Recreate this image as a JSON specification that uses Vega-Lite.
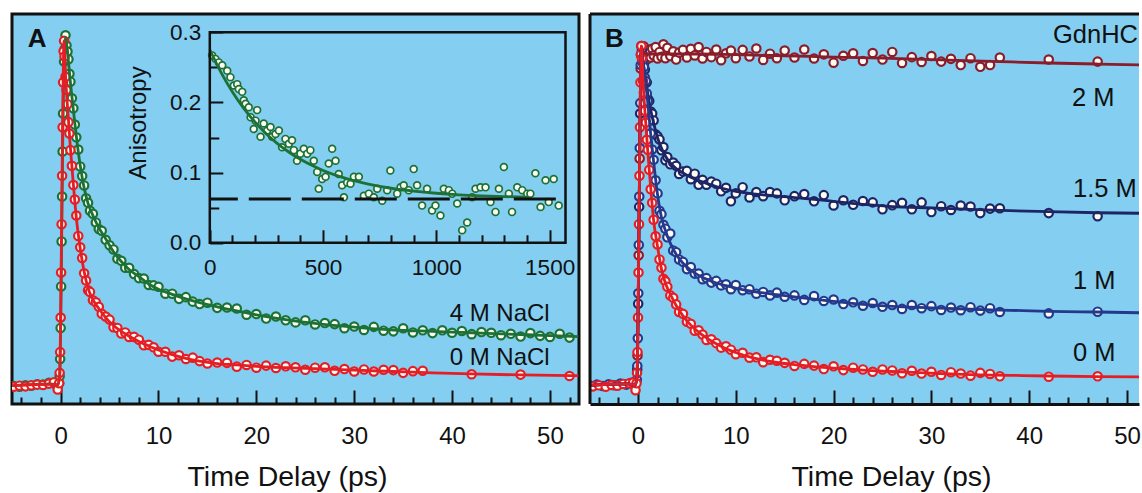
{
 "$schema": "https://vega.github.io/schema/vega-lite/v6.json",
 "background": "white",
 "padding": {"left": 10, "top": 12, "right": 0, "bottom": 0},
 "spacing": 7,
 "config": {
  "font": "Liberation Sans",
  "view": {"stroke": null},
  "axis": {"grid": false, "labelColor": "#111", "titleColor": "#111", "tickColor": "#111", "domainColor": "#111", "labelFont": "Liberation Sans", "titleFont": "Liberation Sans", "titleFontWeight": "normal"},
  "text": {"font": "Liberation Sans"}
 },
 "resolve": {"scale": {"x": "independent", "y": "independent"}},
 "datasets": {
  "ptsA": [
   {"s":"a4","t":-4.8,"v":0.002},{"s":"a4","t":-4.2,"v":0},{"s":"a4","t":-3.6,"v":0.004},{"s":"a4","t":-3,"v":0.003},{"s":"a4","t":-2.4,"v":0.007},{"s":"a4","t":-1.8,"v":0.006},{"s":"a4","t":-1.2,"v":0.011},{"s":"a4","t":-0.7,"v":0.01},{"s":"a4","t":-0.3,"v":0},
   {"s":"a4","t":-0.15,"v":0.01},{"s":"a4","t":-0.1,"v":0.03},{"s":"a4","t":-0.05,"v":0.08},{"s":"a4","t":0,"v":0.17},{"s":"a4","t":0.05,"v":0.29},{"s":"a4","t":0.1,"v":0.42},{"s":"a4","t":0.15,"v":0.55},{"s":"a4","t":0.2,"v":0.68},{"s":"a4","t":0.25,"v":0.79},{"s":"a4","t":0.3,"v":0.88},{"s":"a4","t":0.35,"v":0.94},
   {"s":"a4","t":0.4,"v":0.976},{"s":"a4","t":0.5,"v":1.016},{"s":"a4","t":0.6,"v":0.987},{"s":"a4","t":0.7,"v":0.969},{"s":"a4","t":0.8,"v":0.947},{"s":"a4","t":0.9,"v":0.905},{"s":"a4","t":1.0,"v":0.882},{"s":"a4","t":1.15,"v":0.834},{"s":"a4","t":1.3,"v":0.805},{"s":"a4","t":1.45,"v":0.758},{"s":"a4","t":1.6,"v":0.721},{"s":"a4","t":1.8,"v":0.686},{"s":"a4","t":2.0,"v":0.637},{"s":"a4","t":2.2,"v":0.609},{"s":"a4","t":2.4,"v":0.582},{"s":"a4","t":2.6,"v":0.545},{"s":"a4","t":2.8,"v":0.532},{"s":"a4","t":3.0,"v":0.509},{"s":"a4","t":3.3,"v":0.5},{"s":"a4","t":3.6,"v":0.475},{"s":"a4","t":3.9,"v":0.456},{"s":"a4","t":4.2,"v":0.451},{"s":"a4","t":4.6,"v":0.425},{"s":"a4","t":5.0,"v":0.409},{"s":"a4","t":5.4,"v":0.397},{"s":"a4","t":5.8,"v":0.37},{"s":"a4","t":6.2,"v":0.364},{"s":"a4","t":6.6,"v":0.344},{"s":"a4","t":7.0,"v":0.344},{"s":"a4","t":7.5,"v":0.326},{"s":"a4","t":8,"v":0.314},{"s":"a4","t":8.5,"v":0.313},{"s":"a4","t":9,"v":0.294},{"s":"a4","t":9.5,"v":0.293},{"s":"a4","t":10,"v":0.289},{"s":"a4","t":10.7,"v":0.269},{"s":"a4","t":11.4,"v":0.269},{"s":"a4","t":12.1,"v":0.254},{"s":"a4","t":12.8,"v":0.259},{"s":"a4","t":13.5,"v":0.246},{"s":"a4","t":14.2,"v":0.239},{"s":"a4","t":15,"v":0.243},
   {"s":"a4","t":16,"v":0.228},{"s":"a4","t":17,"v":0.229},{"s":"a4","t":18,"v":0.226},{"s":"a4","t":19,"v":0.208},{"s":"a4","t":20,"v":0.21},{"s":"a4","t":21,"v":0.197},{"s":"a4","t":22,"v":0.203},{"s":"a4","t":23,"v":0.192},{"s":"a4","t":24,"v":0.186},{"s":"a4","t":25,"v":0.192},{"s":"a4","t":26,"v":0.18},{"s":"a4","t":27,"v":0.184},{"s":"a4","t":28,"v":0.181},{"s":"a4","t":29,"v":0.169},{"s":"a4","t":30,"v":0.174},{"s":"a4","t":31,"v":0.164},{"s":"a4","t":32,"v":0.173},{"s":"a4","t":33,"v":0.162},{"s":"a4","t":34,"v":0.16},{"s":"a4","t":35,"v":0.169},{"s":"a4","t":36,"v":0.157},{"s":"a4","t":37,"v":0.163},{"s":"a4","t":38,"v":0.155},{"s":"a4","t":39,"v":0.163},{"s":"a4","t":40,"v":0.156},{"s":"a4","t":41,"v":0.161},{"s":"a4","t":42,"v":0.152},{"s":"a4","t":43,"v":0.158},{"s":"a4","t":44,"v":0.156},{"s":"a4","t":45,"v":0.149},{"s":"a4","t":46,"v":0.153},{"s":"a4","t":47,"v":0.145},{"s":"a4","t":48,"v":0.155},{"s":"a4","t":49,"v":0.147},{"s":"a4","t":50,"v":0.144},{"s":"a4","t":51,"v":0.153},{"s":"a4","t":52,"v":0.142},
   {"s":"a0","t":-4.8,"v":0},{"s":"a0","t":-4.2,"v":0.003},{"s":"a0","t":-3.6,"v":0.001},{"s":"a0","t":-3,"v":0.004},{"s":"a0","t":-2.4,"v":0.006},{"s":"a0","t":-1.8,"v":0.005},{"s":"a0","t":-1.2,"v":0.009},{"s":"a0","t":-0.7,"v":0.013},{"s":"a0","t":-0.3,"v":-0.008},
   {"s":"a0","t":-0.15,"v":0.01},{"s":"a0","t":-0.1,"v":0.04},{"s":"a0","t":-0.05,"v":0.1},{"s":"a0","t":0,"v":0.2},{"s":"a0","t":0.05,"v":0.33},{"s":"a0","t":0.1,"v":0.47},{"s":"a0","t":0.15,"v":0.61},{"s":"a0","t":0.2,"v":0.75},{"s":"a0","t":0.25,"v":0.88},{"s":"a0","t":0.3,"v":0.97},{"s":"a0","t":0.35,"v":1.0},
   {"s":"a0","t":0.4,"v":0.955},{"s":"a0","t":0.5,"v":0.896},{"s":"a0","t":0.6,"v":0.858},{"s":"a0","t":0.7,"v":0.817},{"s":"a0","t":0.8,"v":0.765},{"s":"a0","t":0.9,"v":0.732},{"s":"a0","t":1.0,"v":0.684},{"s":"a0","t":1.15,"v":0.639},{"s":"a0","t":1.3,"v":0.583},{"s":"a0","t":1.45,"v":0.541},{"s":"a0","t":1.6,"v":0.495},{"s":"a0","t":1.8,"v":0.436},{"s":"a0","t":2.0,"v":0.403},{"s":"a0","t":2.2,"v":0.372},{"s":"a0","t":2.4,"v":0.328},{"s":"a0","t":2.6,"v":0.307},{"s":"a0","t":2.8,"v":0.279},{"s":"a0","t":3.0,"v":0.274},{"s":"a0","t":3.3,"v":0.25},{"s":"a0","t":3.6,"v":0.244},{"s":"a0","t":3.9,"v":0.231},{"s":"a0","t":4.2,"v":0.211},{"s":"a0","t":4.6,"v":0.203},{"s":"a0","t":5.0,"v":0.194},{"s":"a0","t":5.4,"v":0.172},{"s":"a0","t":5.8,"v":0.17},{"s":"a0","t":6.2,"v":0.154},{"s":"a0","t":6.6,"v":0.157},{"s":"a0","t":7.0,"v":0.144},{"s":"a0","t":7.5,"v":0.144},{"s":"a0","t":8,"v":0.136},{"s":"a0","t":8.5,"v":0.12},{"s":"a0","t":9,"v":0.121},{"s":"a0","t":9.5,"v":0.114},{"s":"a0","t":10,"v":0.101},{"s":"a0","t":10.7,"v":0.101},{"s":"a0","t":11.4,"v":0.087},{"s":"a0","t":12.1,"v":0.091},{"s":"a0","t":12.8,"v":0.08},{"s":"a0","t":13.5,"v":0.084},{"s":"a0","t":14.2,"v":0.074},{"s":"a0","t":15,"v":0.067},
   {"s":"a0","t":16,"v":0.07},{"s":"a0","t":17,"v":0.069},{"s":"a0","t":18,"v":0.058},{"s":"a0","t":19,"v":0.063},{"s":"a0","t":20,"v":0.055},{"s":"a0","t":21,"v":0.061},{"s":"a0","t":22,"v":0.054},{"s":"a0","t":23,"v":0.059},{"s":"a0","t":24,"v":0.056},{"s":"a0","t":25,"v":0.049},{"s":"a0","t":26,"v":0.055},{"s":"a0","t":27,"v":0.056},{"s":"a0","t":28,"v":0.046},{"s":"a0","t":29,"v":0.051},{"s":"a0","t":30,"v":0.044},{"s":"a0","t":31,"v":0.05},{"s":"a0","t":32,"v":0.044},{"s":"a0","t":33,"v":0.049},{"s":"a0","t":34,"v":0.048},{"s":"a0","t":35,"v":0.04},{"s":"a0","t":36,"v":0.045},{"s":"a0","t":37,"v":0.046},{"s":"a0","t":42,"v":0.036},{"s":"a0","t":47,"v":0.035},{"s":"a0","t":52,"v":0.031}
  ],
  "fitA": [
   {"s":"a4","t":-5,"v":0.003},{"s":"a4","t":-1,"v":0.008},{"s":"a4","t":-0.3,"v":0.005},{"s":"a4","t":-0.1,"v":0.03},{"s":"a4","t":0,"v":0.17},{"s":"a4","t":0.1,"v":0.42},{"s":"a4","t":0.2,"v":0.68},{"s":"a4","t":0.3,"v":0.88},{"s":"a4","t":0.4,"v":0.98},{"s":"a4","t":0.5,"v":1.01},{"s":"a4","t":0.6,"v":0.99},{"s":"a4","t":0.8,"v":0.94},{"s":"a4","t":1.0,"v":0.88},{"s":"a4","t":1.3,"v":0.8},{"s":"a4","t":1.6,"v":0.725},{"s":"a4","t":2.0,"v":0.64},{"s":"a4","t":2.4,"v":0.575},{"s":"a4","t":2.8,"v":0.53},{"s":"a4","t":3.3,"v":0.495},{"s":"a4","t":3.9,"v":0.46},{"s":"a4","t":4.6,"v":0.428},{"s":"a4","t":5.4,"v":0.39},{"s":"a4","t":6.2,"v":0.362},{"s":"a4","t":7.0,"v":0.339},{"s":"a4","t":8,"v":0.318},{"s":"a4","t":9,"v":0.297},{"s":"a4","t":10,"v":0.282},{"s":"a4","t":11.4,"v":0.267},{"s":"a4","t":12.8,"v":0.254},{"s":"a4","t":14.2,"v":0.243},{"s":"a4","t":16,"v":0.231},{"s":"a4","t":18,"v":0.219},{"s":"a4","t":20,"v":0.208},{"s":"a4","t":23,"v":0.194},{"s":"a4","t":26,"v":0.183},{"s":"a4","t":30,"v":0.172},{"s":"a4","t":34,"v":0.164},{"s":"a4","t":38,"v":0.16},{"s":"a4","t":42,"v":0.156},{"s":"a4","t":47,"v":0.151},{"s":"a4","t":52.9,"v":0.145},
   {"s":"a0","t":-5,"v":0.003},{"s":"a0","t":-1,"v":0.007},{"s":"a0","t":-0.3,"v":0.005},{"s":"a0","t":-0.1,"v":0.03},{"s":"a0","t":0,"v":0.2},{"s":"a0","t":0.1,"v":0.47},{"s":"a0","t":0.2,"v":0.75},{"s":"a0","t":0.3,"v":0.97},{"s":"a0","t":0.35,"v":1.0},{"s":"a0","t":0.5,"v":0.9},{"s":"a0","t":0.7,"v":0.81},{"s":"a0","t":1.0,"v":0.69},{"s":"a0","t":1.3,"v":0.585},{"s":"a0","t":1.6,"v":0.49},{"s":"a0","t":2.0,"v":0.4},{"s":"a0","t":2.4,"v":0.333},{"s":"a0","t":2.8,"v":0.285},{"s":"a0","t":3.3,"v":0.252},{"s":"a0","t":3.9,"v":0.226},{"s":"a0","t":4.6,"v":0.2},{"s":"a0","t":5.4,"v":0.177},{"s":"a0","t":6.2,"v":0.16},{"s":"a0","t":7.0,"v":0.146},{"s":"a0","t":8,"v":0.131},{"s":"a0","t":9,"v":0.118},{"s":"a0","t":10,"v":0.106},{"s":"a0","t":11.4,"v":0.093},{"s":"a0","t":12.8,"v":0.082},{"s":"a0","t":14.2,"v":0.074},{"s":"a0","t":16,"v":0.067},{"s":"a0","t":18,"v":0.063},{"s":"a0","t":20,"v":0.059},{"s":"a0","t":23,"v":0.055},{"s":"a0","t":26,"v":0.052},{"s":"a0","t":30,"v":0.048},{"s":"a0","t":34,"v":0.044},{"s":"a0","t":38,"v":0.04},{"s":"a0","t":42,"v":0.037},{"s":"a0","t":47,"v":0.034},{"s":"a0","t":52.9,"v":0.032}
  ],
  "labA": [{"t":39.75,"v":0.19,"label":"4 M NaCl"},{"t":39.75,"v":0.063,"label":"0 M NaCl"}],
  "letA": [{"t":-3.37,"v":0.982,"label":"A"}],
  "ins": [
   {"t":10,"v":0.267},{"t":25,"v":0.262},{"t":40,"v":0.257},{"t":55,"v":0.253},{"t":77,"v":0.245},{"t":91,"v":0.236},{"t":106,"v":0.224},{"t":121,"v":0.226},{"t":128,"v":0.219},{"t":143,"v":0.215},{"t":150,"v":0.203},{"t":158,"v":0.198},{"t":172,"v":0.193},{"t":180,"v":0.179},{"t":194,"v":0.162},{"t":202,"v":0.174},{"t":209,"v":0.189},{"t":224,"v":0.151},{"t":238,"v":0.17},{"t":253,"v":0.16},{"t":268,"v":0.165},{"t":275,"v":0.151},{"t":290,"v":0.155},{"t":305,"v":0.16},{"t":319,"v":0.136},{"t":334,"v":0.148},{"t":349,"v":0.141},{"t":363,"v":0.146},{"t":371,"v":0.132},{"t":385,"v":0.117},{"t":400,"v":0.127},{"t":415,"v":0.134},{"t":430,"v":0.127},{"t":444,"v":0.132},{"t":459,"v":0.117},{"t":474,"v":0.101},{"t":481,"v":0.077},{"t":496,"v":0.091},{"t":511,"v":0.094},{"t":525,"v":0.113},{"t":540,"v":0.134},{"t":555,"v":0.117},{"t":569,"v":0.098},{"t":584,"v":0.082},{"t":592,"v":0.065},{"t":606,"v":0.086},{"t":621,"v":0.084},{"t":636,"v":0.094},{"t":658,"v":0.094},{"t":680,"v":0.067},{"t":702,"v":0.07},{"t":724,"v":0.065},{"t":739,"v":0.077},{"t":761,"v":0.06},{"t":783,"v":0.075},{"t":797,"v":0.103},{"t":827,"v":0.07},{"t":842,"v":0.079},{"t":856,"v":0.082},{"t":878,"v":0.075},{"t":900,"v":0.105},{"t":915,"v":0.082},{"t":937,"v":0.053},{"t":959,"v":0.077},{"t":981,"v":0.046},{"t":996,"v":0.053},{"t":1018,"v":0.039},{"t":1033,"v":0.077},{"t":1055,"v":0.075},{"t":1070,"v":0.07},{"t":1092,"v":0.056},{"t":1114,"v":0.018},{"t":1136,"v":0.029},{"t":1158,"v":0.065},{"t":1173,"v":0.077},{"t":1195,"v":0.079},{"t":1217,"v":0.079},{"t":1239,"v":0.058},{"t":1261,"v":0.044},{"t":1276,"v":0.077},{"t":1298,"v":0.108},{"t":1320,"v":0.07},{"t":1334,"v":0.044},{"t":1357,"v":0.079},{"t":1379,"v":0.075},{"t":1401,"v":0.07},{"t":1415,"v":0.07},{"t":1437,"v":0.099},{"t":1460,"v":0.051},{"t":1482,"v":0.089},{"t":1496,"v":0.058},{"t":1518,"v":0.091},{"t":1540,"v":0.053}
  ],
  "insFit": [
   {"t":0,"v":0.275},{"t":50,"v":0.2425},{"t":100,"v":0.2149},{"t":150,"v":0.1916},{"t":200,"v":0.1718},{"t":250,"v":0.1551},{"t":300,"v":0.141},{"t":350,"v":0.129},{"t":400,"v":0.1189},{"t":450,"v":0.1103},{"t":500,"v":0.103},{"t":600,"v":0.0917},{"t":700,"v":0.0836},{"t":800,"v":0.0777},{"t":900,"v":0.0736},{"t":1000,"v":0.0706},{"t":1100,"v":0.0684},{"t":1200,"v":0.0669},{"t":1300,"v":0.0658},{"t":1400,"v":0.065}
  ],
  "ptsB": [
   {"s":"b2","t":-0.05,"v":0.09},{"s":"b2","t":0.07,"v":0.38},{"s":"b2","t":0.17,"v":0.66},{"s":"b2","t":0.27,"v":0.92},{"s":"b2","t":0.33,"v":0.985},
   {"s":"b2","t":0.4,"v":0.985},{"s":"b2","t":0.5,"v":0.958},{"s":"b2","t":0.6,"v":0.984},{"s":"b2","t":0.7,"v":0.958},{"s":"b2","t":0.8,"v":0.971},{"s":"b2","t":0.9,"v":0.946},{"s":"b2","t":1.0,"v":0.966},{"s":"b2","t":1.15,"v":0.974},{"s":"b2","t":1.3,"v":0.952},{"s":"b2","t":1.45,"v":0.977},{"s":"b2","t":1.6,"v":0.958},{"s":"b2","t":1.8,"v":0.982},{"s":"b2","t":2.0,"v":0.949},{"s":"b2","t":2.2,"v":0.968},{"s":"b2","t":2.4,"v":0.954},{"s":"b2","t":2.6,"v":0.99},{"s":"b2","t":2.8,"v":0.95},{"s":"b2","t":3.0,"v":0.98},{"s":"b2","t":3.3,"v":0.956},{"s":"b2","t":3.6,"v":0.97},{"s":"b2","t":3.9,"v":0.946},{"s":"b2","t":4.2,"v":0.966},{"s":"b2","t":4.6,"v":0.974},{"s":"b2","t":5.0,"v":0.952},{"s":"b2","t":5.4,"v":0.977},{"s":"b2","t":5.8,"v":0.958},{"s":"b2","t":6.2,"v":0.982},{"s":"b2","t":6.6,"v":0.949},{"s":"b2","t":7.0,"v":0.968},{"s":"b2","t":7.5,"v":0.953},{"s":"b2","t":8,"v":0.975},{"s":"b2","t":8.5,"v":0.944},{"s":"b2","t":9,"v":0.964},{"s":"b2","t":9.5,"v":0.972},{"s":"b2","t":10,"v":0.95},{"s":"b2","t":10.7,"v":0.974},{"s":"b2","t":11.4,"v":0.955},{"s":"b2","t":12.1,"v":0.978},{"s":"b2","t":12.8,"v":0.945},{"s":"b2","t":13.5,"v":0.963},{"s":"b2","t":14.2,"v":0.95},{"s":"b2","t":15,"v":0.972},{"s":"b2","t":16,"v":0.952},{"s":"b2","t":17,"v":0.975},{"s":"b2","t":18,"v":0.949},{"s":"b2","t":19,"v":0.961},{"s":"b2","t":20,"v":0.937},{"s":"b2","t":21,"v":0.957},{"s":"b2","t":22,"v":0.964},{"s":"b2","t":23,"v":0.942},{"s":"b2","t":24,"v":0.965},{"s":"b2","t":25,"v":0.946},{"s":"b2","t":26,"v":0.968},{"s":"b2","t":27,"v":0.936},{"s":"b2","t":28,"v":0.953},{"s":"b2","t":29,"v":0.939},{"s":"b2","t":30,"v":0.956},{"s":"b2","t":31,"v":0.94},{"s":"b2","t":32,"v":0.948},{"s":"b2","t":33,"v":0.93},{"s":"b2","t":34,"v":0.95},{"s":"b2","t":35,"v":0.925},{"s":"b2","t":36,"v":0.93},{"s":"b2","t":37,"v":0.952},{"s":"b2","t":42,"v":0.946},{"s":"b2","t":47,"v":0.94},{"s":"b2","t":52,"v":0.921},
   {"s":"b15","t":-0.08,"v":0.05},{"s":"b15","t":0.02,"v":0.24},{"s":"b15","t":0.12,"v":0.52},{"s":"b15","t":0.22,"v":0.79},{"s":"b15","t":0.3,"v":0.96},
   {"s":"b15","t":0.4,"v":0.973},{"s":"b15","t":0.5,"v":0.935},{"s":"b15","t":0.6,"v":0.929},{"s":"b15","t":0.7,"v":0.917},{"s":"b15","t":0.8,"v":0.879},{"s":"b15","t":0.9,"v":0.88},{"s":"b15","t":1.0,"v":0.833},{"s":"b15","t":1.15,"v":0.826},{"s":"b15","t":1.3,"v":0.796},{"s":"b15","t":1.45,"v":0.79},{"s":"b15","t":1.6,"v":0.77},{"s":"b15","t":1.8,"v":0.73},{"s":"b15","t":2.0,"v":0.724},{"s":"b15","t":2.2,"v":0.715},{"s":"b15","t":2.4,"v":0.684},{"s":"b15","t":2.6,"v":0.693},{"s":"b15","t":2.8,"v":0.655},{"s":"b15","t":3.0,"v":0.664},{"s":"b15","t":3.3,"v":0.643},{"s":"b15","t":3.6,"v":0.648},{"s":"b15","t":3.9,"v":0.639},{"s":"b15","t":4.2,"v":0.615},{"s":"b15","t":4.6,"v":0.622},{"s":"b15","t":5.0,"v":0.624},{"s":"b15","t":5.4,"v":0.6},{"s":"b15","t":5.8,"v":0.616},{"s":"b15","t":6.2,"v":0.584},{"s":"b15","t":6.6,"v":0.598},{"s":"b15","t":7.0,"v":0.584},{"s":"b15","t":7.5,"v":0.593},{"s":"b15","t":8,"v":0.587},{"s":"b15","t":8.5,"v":0.565},{"s":"b15","t":9,"v":0.575},{"s":"b15","t":9.5,"v":0.536},{"s":"b15","t":10,"v":0.559},{"s":"b15","t":10.7,"v":0.577},{"s":"b15","t":11.4,"v":0.547},{"s":"b15","t":12.1,"v":0.563},{"s":"b15","t":12.8,"v":0.551},{"s":"b15","t":13.5,"v":0.563},{"s":"b15","t":14.2,"v":0.559},{"s":"b15","t":15,"v":0.539},{"s":"b15","t":16,"v":0.551},{"s":"b15","t":17,"v":0.557},{"s":"b15","t":18,"v":0.536},{"s":"b15","t":19,"v":0.554},{"s":"b15","t":20,"v":0.524},{"s":"b15","t":21,"v":0.539},{"s":"b15","t":22,"v":0.526},{"s":"b15","t":23,"v":0.537},{"s":"b15","t":24,"v":0.533},{"s":"b15","t":25,"v":0.513},{"s":"b15","t":26,"v":0.525},{"s":"b15","t":27,"v":0.532},{"s":"b15","t":28,"v":0.513},{"s":"b15","t":29,"v":0.533},{"s":"b15","t":30,"v":0.505},{"s":"b15","t":31,"v":0.522},{"s":"b15","t":32,"v":0.511},{"s":"b15","t":33,"v":0.524},{"s":"b15","t":34,"v":0.521},{"s":"b15","t":35,"v":0.502},{"s":"b15","t":36,"v":0.515},{"s":"b15","t":37,"v":0.516},{"s":"b15","t":42,"v":0.502},{"s":"b15","t":47,"v":0.493},{"s":"b15","t":52,"v":0.497},
   {"s":"b1","t":-4.8,"v":0.003},{"s":"b1","t":-4.2,"v":0.006},{"s":"b1","t":-3.6,"v":0.002},{"s":"b1","t":-3,"v":0.007},{"s":"b1","t":-2.4,"v":0.004},{"s":"b1","t":-1.8,"v":0.009},{"s":"b1","t":-1.2,"v":0.006},{"s":"b1","t":-0.7,"v":0.011},{"s":"b1","t":-0.3,"v":0.002},
   {"s":"b1","t":-0.12,"v":0.02},{"s":"b1","t":-0.07,"v":0.06},{"s":"b1","t":-0.02,"v":0.14},{"s":"b1","t":0.03,"v":0.27},{"s":"b1","t":0.08,"v":0.41},{"s":"b1","t":0.13,"v":0.55},{"s":"b1","t":0.18,"v":0.69},{"s":"b1","t":0.23,"v":0.82},{"s":"b1","t":0.28,"v":0.93},
   {"s":"b1","t":0.4,"v":0.966},{"s":"b1","t":0.5,"v":0.937},{"s":"b1","t":0.6,"v":0.924},{"s":"b1","t":0.7,"v":0.894},{"s":"b1","t":0.8,"v":0.884},{"s":"b1","t":0.9,"v":0.848},{"s":"b1","t":1.0,"v":0.825},{"s":"b1","t":1.15,"v":0.77},{"s":"b1","t":1.3,"v":0.733},{"s":"b1","t":1.45,"v":0.686},{"s":"b1","t":1.6,"v":0.656},{"s":"b1","t":1.8,"v":0.597},{"s":"b1","t":2.0,"v":0.559},{"s":"b1","t":2.2,"v":0.509},{"s":"b1","t":2.4,"v":0.499},{"s":"b1","t":2.6,"v":0.468},{"s":"b1","t":2.8,"v":0.457},{"s":"b1","t":3.0,"v":0.432},{"s":"b1","t":3.3,"v":0.443},{"s":"b1","t":3.6,"v":0.394},{"s":"b1","t":3.9,"v":0.389},{"s":"b1","t":4.2,"v":0.368},{"s":"b1","t":4.6,"v":0.361},{"s":"b1","t":5.0,"v":0.34},{"s":"b1","t":5.4,"v":0.346},{"s":"b1","t":5.8,"v":0.327},{"s":"b1","t":6.2,"v":0.327},{"s":"b1","t":6.6,"v":0.311},{"s":"b1","t":7.0,"v":0.314},{"s":"b1","t":7.5,"v":0.301},{"s":"b1","t":8,"v":0.306},{"s":"b1","t":8.5,"v":0.293},{"s":"b1","t":9,"v":0.296},{"s":"b1","t":9.5,"v":0.282},{"s":"b1","t":10,"v":0.294},{"s":"b1","t":10.7,"v":0.279},{"s":"b1","t":11.4,"v":0.282},{"s":"b1","t":12.1,"v":0.269},{"s":"b1","t":12.8,"v":0.274},{"s":"b1","t":13.5,"v":0.264},{"s":"b1","t":14.2,"v":0.272},{"s":"b1","t":15,"v":0.26},{"s":"b1","t":16,"v":0.264},{"s":"b1","t":17,"v":0.251},{"s":"b1","t":18,"v":0.262},{"s":"b1","t":19,"v":0.248},{"s":"b1","t":20,"v":0.252},{"s":"b1","t":21,"v":0.239},{"s":"b1","t":22,"v":0.244},{"s":"b1","t":23,"v":0.234},{"s":"b1","t":24,"v":0.242},{"s":"b1","t":25,"v":0.231},{"s":"b1","t":26,"v":0.236},{"s":"b1","t":27,"v":0.225},{"s":"b1","t":28,"v":0.236},{"s":"b1","t":29,"v":0.227},{"s":"b1","t":30,"v":0.233},{"s":"b1","t":31,"v":0.222},{"s":"b1","t":32,"v":0.229},{"s":"b1","t":33,"v":0.221},{"s":"b1","t":34,"v":0.23},{"s":"b1","t":35,"v":0.22},{"s":"b1","t":36,"v":0.227},{"s":"b1","t":37,"v":0.216},{"s":"b1","t":42,"v":0.212},{"s":"b1","t":47,"v":0.217},{"s":"b1","t":52,"v":0.207},
   {"s":"b0","t":-4.6,"v":0.001},{"s":"b0","t":-4,"v":0.004},{"s":"b0","t":-3.3,"v":0},{"s":"b0","t":-2.7,"v":0.005},{"s":"b0","t":-2.1,"v":0.003},{"s":"b0","t":-1.5,"v":0.008},{"s":"b0","t":-0.9,"v":0.01},{"s":"b0","t":-0.5,"v":0.012},{"s":"b0","t":-0.25,"v":-0.01},
   {"s":"b0","t":-0.15,"v":0.01},{"s":"b0","t":-0.1,"v":0.04},{"s":"b0","t":-0.05,"v":0.1},{"s":"b0","t":0,"v":0.2},{"s":"b0","t":0.05,"v":0.33},{"s":"b0","t":0.1,"v":0.47},{"s":"b0","t":0.15,"v":0.61},{"s":"b0","t":0.2,"v":0.75},{"s":"b0","t":0.25,"v":0.88},{"s":"b0","t":0.3,"v":0.96},{"s":"b0","t":0.35,"v":0.985},
   {"s":"b0","t":0.4,"v":0.948},{"s":"b0","t":0.5,"v":0.885},{"s":"b0","t":0.6,"v":0.851},{"s":"b0","t":0.7,"v":0.798},{"s":"b0","t":0.8,"v":0.764},{"s":"b0","t":0.9,"v":0.714},{"s":"b0","t":1.0,"v":0.685},{"s":"b0","t":1.15,"v":0.627},{"s":"b0","t":1.3,"v":0.571},{"s":"b0","t":1.45,"v":0.532},{"s":"b0","t":1.6,"v":0.483},{"s":"b0","t":1.8,"v":0.435},{"s":"b0","t":2.0,"v":0.411},{"s":"b0","t":2.2,"v":0.368},{"s":"b0","t":2.4,"v":0.344},{"s":"b0","t":2.6,"v":0.312},{"s":"b0","t":2.8,"v":0.305},{"s":"b0","t":3.0,"v":0.289},{"s":"b0","t":3.3,"v":0.264},{"s":"b0","t":3.6,"v":0.257},{"s":"b0","t":3.9,"v":0.238},{"s":"b0","t":4.2,"v":0.216},{"s":"b0","t":4.6,"v":0.211},{"s":"b0","t":5.0,"v":0.188},{"s":"b0","t":5.4,"v":0.182},{"s":"b0","t":5.8,"v":0.162},{"s":"b0","t":6.2,"v":0.163},{"s":"b0","t":6.6,"v":0.151},{"s":"b0","t":7.0,"v":0.135},{"s":"b0","t":7.5,"v":0.137},{"s":"b0","t":8,"v":0.126},{"s":"b0","t":8.5,"v":0.113},{"s":"b0","t":9,"v":0.117},{"s":"b0","t":9.5,"v":0.107},{"s":"b0","t":10,"v":0.094},{"s":"b0","t":10.7,"v":0.098},{"s":"b0","t":11.4,"v":0.084},{"s":"b0","t":12.1,"v":0.085},{"s":"b0","t":12.8,"v":0.071},{"s":"b0","t":13.5,"v":0.078},{"s":"b0","t":14.2,"v":0.075},{"s":"b0","t":15,"v":0.069},{"s":"b0","t":16,"v":0.06},{"s":"b0","t":17,"v":0.066},{"s":"b0","t":18,"v":0.061},{"s":"b0","t":19,"v":0.051},{"s":"b0","t":20,"v":0.059},{"s":"b0","t":21,"v":0.048},{"s":"b0","t":22,"v":0.055},{"s":"b0","t":23,"v":0.05},{"s":"b0","t":24,"v":0.043},{"s":"b0","t":25,"v":0.05},{"s":"b0","t":26,"v":0.047},{"s":"b0","t":27,"v":0.039},{"s":"b0","t":28,"v":0.046},{"s":"b0","t":29,"v":0.038},{"s":"b0","t":30,"v":0.043},{"s":"b0","t":31,"v":0.034},{"s":"b0","t":32,"v":0.042},{"s":"b0","t":33,"v":0.038},{"s":"b0","t":34,"v":0.032},{"s":"b0","t":35,"v":0.04},{"s":"b0","t":36,"v":0.037},{"s":"b0","t":37,"v":0.03},{"s":"b0","t":42,"v":0.029},{"s":"b0","t":47,"v":0.03},{"s":"b0","t":52,"v":0.027}
  ],
  "fitB": [
   {"s":"b2","t":-5,"v":0.004},{"s":"b2","t":-1,"v":0.008},{"s":"b2","t":-0.3,"v":0.004},{"s":"b2","t":-0.1,"v":0.03},{"s":"b2","t":0,"v":0.19},{"s":"b2","t":0.1,"v":0.46},{"s":"b2","t":0.2,"v":0.74},{"s":"b2","t":0.3,"v":0.96},{"s":"b2","t":0.35,"v":0.985},{"s":"b2","t":0.5,"v":0.97},{"s":"b2","t":0.7,"v":0.964},{"s":"b2","t":1.0,"v":0.962},{"s":"b2","t":3,"v":0.962},{"s":"b2","t":6,"v":0.962},{"s":"b2","t":10,"v":0.96},{"s":"b2","t":15,"v":0.957},{"s":"b2","t":20,"v":0.953},{"s":"b2","t":25,"v":0.95},{"s":"b2","t":30,"v":0.946},{"s":"b2","t":37,"v":0.94},{"s":"b2","t":42,"v":0.936},{"s":"b2","t":47,"v":0.933},{"s":"b2","t":53,"v":0.93},
   {"s":"b15","t":-5,"v":0.004},{"s":"b15","t":-1,"v":0.008},{"s":"b15","t":-0.3,"v":0.004},{"s":"b15","t":-0.1,"v":0.03},{"s":"b15","t":0,"v":0.19},{"s":"b15","t":0.1,"v":0.46},{"s":"b15","t":0.2,"v":0.74},{"s":"b15","t":0.3,"v":0.96},{"s":"b15","t":0.35,"v":0.975},{"s":"b15","t":0.5,"v":0.945},{"s":"b15","t":0.7,"v":0.905},{"s":"b15","t":1.0,"v":0.845},{"s":"b15","t":1.3,"v":0.8},{"s":"b15","t":1.6,"v":0.762},{"s":"b15","t":2.0,"v":0.72},{"s":"b15","t":2.4,"v":0.69},{"s":"b15","t":2.8,"v":0.667},{"s":"b15","t":3.3,"v":0.647},{"s":"b15","t":3.9,"v":0.631},{"s":"b15","t":4.6,"v":0.618},{"s":"b15","t":5.4,"v":0.606},{"s":"b15","t":6.2,"v":0.596},{"s":"b15","t":7.0,"v":0.588},{"s":"b15","t":8,"v":0.579},{"s":"b15","t":9,"v":0.571},{"s":"b15","t":10,"v":0.565},{"s":"b15","t":11.4,"v":0.559},{"s":"b15","t":12.8,"v":0.555},{"s":"b15","t":14.2,"v":0.551},{"s":"b15","t":16,"v":0.547},{"s":"b15","t":18,"v":0.542},{"s":"b15","t":20,"v":0.536},{"s":"b15","t":23,"v":0.527},{"s":"b15","t":26,"v":0.521},{"s":"b15","t":30,"v":0.517},{"s":"b15","t":34,"v":0.513},{"s":"b15","t":38,"v":0.509},{"s":"b15","t":42,"v":0.506},{"s":"b15","t":47,"v":0.503},{"s":"b15","t":53,"v":0.501},
   {"s":"b1","t":-5,"v":0.004},{"s":"b1","t":-1,"v":0.008},{"s":"b1","t":-0.3,"v":0.004},{"s":"b1","t":-0.1,"v":0.03},{"s":"b1","t":0,"v":0.19},{"s":"b1","t":0.1,"v":0.46},{"s":"b1","t":0.2,"v":0.74},{"s":"b1","t":0.3,"v":0.96},{"s":"b1","t":0.35,"v":0.98},{"s":"b1","t":0.5,"v":0.94},{"s":"b1","t":0.7,"v":0.9},{"s":"b1","t":1.0,"v":0.82},{"s":"b1","t":1.3,"v":0.73},{"s":"b1","t":1.6,"v":0.65},{"s":"b1","t":2.0,"v":0.555},{"s":"b1","t":2.4,"v":0.49},{"s":"b1","t":2.8,"v":0.452},{"s":"b1","t":3.3,"v":0.415},{"s":"b1","t":3.9,"v":0.383},{"s":"b1","t":4.6,"v":0.357},{"s":"b1","t":5.4,"v":0.337},{"s":"b1","t":6.2,"v":0.322},{"s":"b1","t":7.0,"v":0.311},{"s":"b1","t":8,"v":0.3},{"s":"b1","t":9,"v":0.292},{"s":"b1","t":10,"v":0.285},{"s":"b1","t":11.4,"v":0.277},{"s":"b1","t":12.8,"v":0.271},{"s":"b1","t":14.2,"v":0.266},{"s":"b1","t":16,"v":0.26},{"s":"b1","t":18,"v":0.253},{"s":"b1","t":20,"v":0.247},{"s":"b1","t":23,"v":0.238},{"s":"b1","t":26,"v":0.232},{"s":"b1","t":30,"v":0.228},{"s":"b1","t":34,"v":0.224},{"s":"b1","t":38,"v":0.221},{"s":"b1","t":42,"v":0.218},{"s":"b1","t":47,"v":0.216},{"s":"b1","t":53,"v":0.213},
   {"s":"b0","t":-5,"v":0.004},{"s":"b0","t":-1,"v":0.008},{"s":"b0","t":-0.3,"v":0.004},{"s":"b0","t":-0.1,"v":0.03},{"s":"b0","t":0,"v":0.2},{"s":"b0","t":0.1,"v":0.47},{"s":"b0","t":0.2,"v":0.75},{"s":"b0","t":0.3,"v":0.96},{"s":"b0","t":0.35,"v":0.985},{"s":"b0","t":0.5,"v":0.89},{"s":"b0","t":0.7,"v":0.8},{"s":"b0","t":1.0,"v":0.68},{"s":"b0","t":1.3,"v":0.575},{"s":"b0","t":1.6,"v":0.48},{"s":"b0","t":2.0,"v":0.405},{"s":"b0","t":2.4,"v":0.34},{"s":"b0","t":2.8,"v":0.3},{"s":"b0","t":3.3,"v":0.268},{"s":"b0","t":3.9,"v":0.235},{"s":"b0","t":4.6,"v":0.205},{"s":"b0","t":5.4,"v":0.178},{"s":"b0","t":6.2,"v":0.158},{"s":"b0","t":7.0,"v":0.141},{"s":"b0","t":8,"v":0.124},{"s":"b0","t":9,"v":0.11},{"s":"b0","t":10,"v":0.099},{"s":"b0","t":11.4,"v":0.086},{"s":"b0","t":12.8,"v":0.077},{"s":"b0","t":14.2,"v":0.07},{"s":"b0","t":16,"v":0.064},{"s":"b0","t":18,"v":0.058},{"s":"b0","t":20,"v":0.054},{"s":"b0","t":23,"v":0.048},{"s":"b0","t":26,"v":0.044},{"s":"b0","t":30,"v":0.039},{"s":"b0","t":34,"v":0.035},{"s":"b0","t":38,"v":0.033},{"s":"b0","t":42,"v":0.031},{"s":"b0","t":47,"v":0.029},{"s":"b0","t":53,"v":0.028}
  ],
  "labB": [{"t":42.43,"v":0.993,"label":"GdnHCl"},{"t":44.38,"v":0.811,"label":"2 M"},{"t":44.48,"v":0.549,"label":"1.5 M"},{"t":44.48,"v":0.282,"label":"1 M"},{"t":44.48,"v":0.074,"label":"0 M"}],
  "letB": [{"t":-3.37,"v":0.982,"label":"B"}]
 },
 "hconcat": [
  {
   "width": 567,
   "height": 390,
   "view": {"fill": "#83CEF1", "stroke": "#111", "strokeWidth": 3},
   "resolve": {"scale": {"x": "independent", "y": "independent"}, "axis": {"x": "independent", "y": "independent"}},
   "layer": [
    {
     "resolve": {"axis": {"x": "independent"}},
     "layer": [
      {
       "data": {"name": "ptsA"},
       "mark": {"type": "point", "shape": "circle", "filled": false, "fill": "#FFFDF2", "fillOpacity": 1, "opacity": 1, "size": 70, "strokeWidth": 2.2, "clip": true},
       "encoding": {
        "x": {"field": "t", "type": "quantitative", "scale": {"domain": [-4.97, 52.97], "nice": false, "zero": false},
         "axis": {"orient": "bottom", "values": [0,10,20,30,40,50], "domain": false, "ticks": true, "tickSize": -14, "tickWidth": 2,
          "labelFontSize": 24, "labelPadding": 34, "labelOverlap": false, "labelFlush": false,
          "title": "Time Delay (ps)", "titleFontSize": 28.5, "titleX": 275, "titleY": 81, "titleBaseline": "alphabetic", "titleAlign": "center"}},
        "y": {"field": "v", "type": "quantitative", "scale": {"domain": [-0.05, 1.0777], "nice": false, "zero": false}, "axis": null},
        "stroke": {"field": "s", "type": "nominal", "scale": {"domain": ["a0","a4","b0","b1","b15","b2"], "range": ["#E41E26","#1C7236","#E41E26","#24398C","#1E2565","#8A1C2B"]}, "legend": null}
       }
      },
      {
       "data": {"name": "fitA"},
       "mark": {"type": "line", "strokeWidth": 2.8, "interpolate": "monotone", "clip": true},
       "encoding": {
        "x": {"field": "t", "type": "quantitative",
         "axis": {"orient": "bottom", "values": [-4,-2,2,4,6,8,12,14,16,18,22,24,26,28,32,34,36,38,42,44,46,48,52], "domain": false, "ticks": true, "tickSize": -7, "tickWidth": 2, "labels": false, "title": null}},
        "y": {"field": "v", "type": "quantitative", "axis": null},
        "stroke": {"field": "s", "type": "nominal", "scale": {"domain": ["a0","a4","b0","b1","b15","b2"], "range": ["#E41E26","#1C7236","#E41E26","#24398C","#1E2565","#8A1C2B"]}, "legend": null}
       }
      },
      {
       "data": {"name": "labA"},
       "mark": {"type": "text", "fontSize": 24, "align": "left", "baseline": "alphabetic", "color": "#111"},
       "encoding": {
        "x": {"field": "t", "type": "quantitative", "axis": null},
        "y": {"field": "v", "type": "quantitative", "axis": null},
        "text": {"field": "label"}
       }
      },
      {
       "data": {"name": "letA"},
       "mark": {"type": "text", "fontSize": 26, "fontWeight": "bold", "align": "left", "baseline": "alphabetic", "color": "#111"},
       "encoding": {
        "x": {"field": "t", "type": "quantitative", "axis": null},
        "y": {"field": "v", "type": "quantitative", "axis": null},
        "text": {"field": "label"}
       }
      }
     ]
    },
    {
     "resolve": {"axis": {"x": "independent", "y": "independent"}},
     "layer": [
      {
       "data": {"name": "ins"},
       "mark": {"type": "point", "shape": "circle", "filled": false, "fill": "#FFFDF2", "fillOpacity": 1, "opacity": 1, "size": 46, "strokeWidth": 1.7, "stroke": "#1C7236"},
       "encoding": {
        "x": {"field": "t", "type": "quantitative", "scale": {"domain": [0, 1570], "range": [197.8, 553.5], "nice": false, "zero": false},
         "axis": {"orient": "bottom", "offset": -161.2, "values": [0,500,1000,1500], "format": "d",
          "domain": false, "ticks": true, "tickSize": -13, "tickWidth": 2,
          "labelFontSize": 22.5, "labelPadding": 27, "labelOverlap": false, "labelFlush": false, "title": null}},
        "y": {"field": "v", "type": "quantitative", "scale": {"domain": [0, 0.3], "range": [228.8, 18.2], "nice": false, "zero": false},
         "axis": {"orient": "left", "offset": -197.8, "values": [0,0.1,0.2,0.3], "format": ".1f",
          "domain": false, "ticks": true, "tickSize": -13, "tickWidth": 2,
          "labelFontSize": 22.5, "labelPadding": 22, "labelOverlap": false, "labelFlush": false,
          "title": "Anisotropy", "titleFontSize": 24, "titleX": -71, "titleY": 108.5, "titleAngle": -90, "titleAlign": "center", "titleBaseline": "middle"}}
       }
      },
      {
       "data": {"name": "insFit"},
       "mark": {"type": "line", "strokeWidth": 2.8, "color": "#1C7236", "interpolate": "monotone"},
       "encoding": {
        "x": {"field": "t", "type": "quantitative",
         "axis": {"orient": "bottom", "offset": -161.2, "values": [100,200,300,400,600,700,800,900,1100,1200,1300,1400], "domain": false, "ticks": true, "tickSize": -8, "tickWidth": 2, "labels": false, "title": null}},
        "y": {"field": "v", "type": "quantitative",
         "axis": {"orient": "left", "offset": -197.8, "values": [0.05,0.15,0.25], "domain": false, "ticks": true, "tickSize": -9, "tickWidth": 2, "labels": false, "title": null}}
       }
      },
      {
       "data": {"values": [{"k": 1}]},
       "mark": {"type": "rule", "strokeWidth": 3, "color": "#111", "strokeDash": [42, 11], "strokeDashOffset": 14},
       "encoding": {
        "x": {"datum": 0, "axis": null},
        "x2": {"datum": 1570},
        "y": {"datum": 0.0625, "axis": null}
       }
      },
      {
       "data": {"values": [{"k": 1}]},
       "mark": {"type": "rect", "fill": "transparent", "stroke": "#111", "strokeWidth": 2.5},
       "encoding": {
        "x": {"datum": 0, "axis": null},
        "x2": {"datum": 1570},
        "y": {"datum": 0, "axis": null},
        "y2": {"datum": 0.3}
       }
      }
     ]
    }
   ]
  },
  {
   "width": 549,
   "height": 390,
   "view": {"fill": "#83CEF1", "stroke": null},
   "resolve": {"axis": {"x": "independent"}},
   "layer": [
    {
     "data": {"name": "ptsB"},
     "mark": {"type": "point", "shape": "circle", "filled": false, "fill": "#FFFDF2", "fillOpacity": 1, "opacity": 1, "size": 70, "strokeWidth": 2.2, "clip": true},
     "encoding": {
      "x": {"field": "t", "type": "quantitative", "scale": {"domain": [-4.908, 51.23], "nice": false, "zero": false},
       "axis": {"orient": "bottom", "values": [0,10,20,30,40,50], "domain": true, "domainWidth": 3, "ticks": true, "tickSize": -14, "tickWidth": 2,
        "labelFontSize": 24, "labelPadding": 34, "labelOverlap": false, "labelFlush": false,
        "title": "Time Delay (ps)", "titleFontSize": 28.5, "titleX": 301, "titleY": 81, "titleBaseline": "alphabetic", "titleAlign": "center"}},
      "y": {"field": "v", "type": "quantitative", "scale": {"domain": [-0.05, 1.0777], "nice": false, "zero": false}, "axis": null},
      "stroke": {"field": "s", "type": "nominal", "scale": {"domain": ["a0","a4","b0","b1","b15","b2"], "range": ["#E41E26","#1C7236","#E41E26","#24398C","#1E2565","#8A1C2B"]}, "legend": null}
     }
    },
    {
     "data": {"name": "fitB"},
     "mark": {"type": "line", "strokeWidth": 2.8, "interpolate": "monotone", "clip": true},
     "encoding": {
      "x": {"field": "t", "type": "quantitative",
       "axis": {"orient": "bottom", "values": [-4,-2,2,4,6,8,12,14,16,18,22,24,26,28,32,34,36,38,42,44,46,48], "domain": false, "ticks": true, "tickSize": -7, "tickWidth": 2, "labels": false, "title": null}},
      "y": {"field": "v", "type": "quantitative", "axis": null},
      "stroke": {"field": "s", "type": "nominal", "scale": {"domain": ["a0","a4","b0","b1","b15","b2"], "range": ["#E41E26","#1C7236","#E41E26","#24398C","#1E2565","#8A1C2B"]}, "legend": null}
     }
    },
    {
     "data": {"name": "labB"},
     "mark": {"type": "text", "fontSize": 25.5, "align": "left", "baseline": "alphabetic", "color": "#111", "clip": true},
     "encoding": {
      "x": {"field": "t", "type": "quantitative", "axis": null},
      "y": {"field": "v", "type": "quantitative", "axis": null},
      "text": {"field": "label"}
     }
    },
    {
     "data": {"name": "letB"},
     "mark": {"type": "text", "fontSize": 26, "fontWeight": "bold", "align": "left", "baseline": "alphabetic", "color": "#111"},
     "encoding": {
      "x": {"field": "t", "type": "quantitative", "axis": null},
      "y": {"field": "v", "type": "quantitative", "axis": null},
      "text": {"field": "label"}
     }
    },
    {
     "data": {"values": [{"k": 1}]},
     "mark": {"type": "rule", "strokeWidth": 3, "color": "#111"},
     "encoding": {"y": {"datum": 1.0777, "axis": null}}
    },
    {
     "data": {"values": [{"k": 1}]},
     "mark": {"type": "rule", "strokeWidth": 3, "color": "#111"},
     "encoding": {"x": {"datum": -4.908, "axis": null}}
    }
   ]
  }
 ]
}
